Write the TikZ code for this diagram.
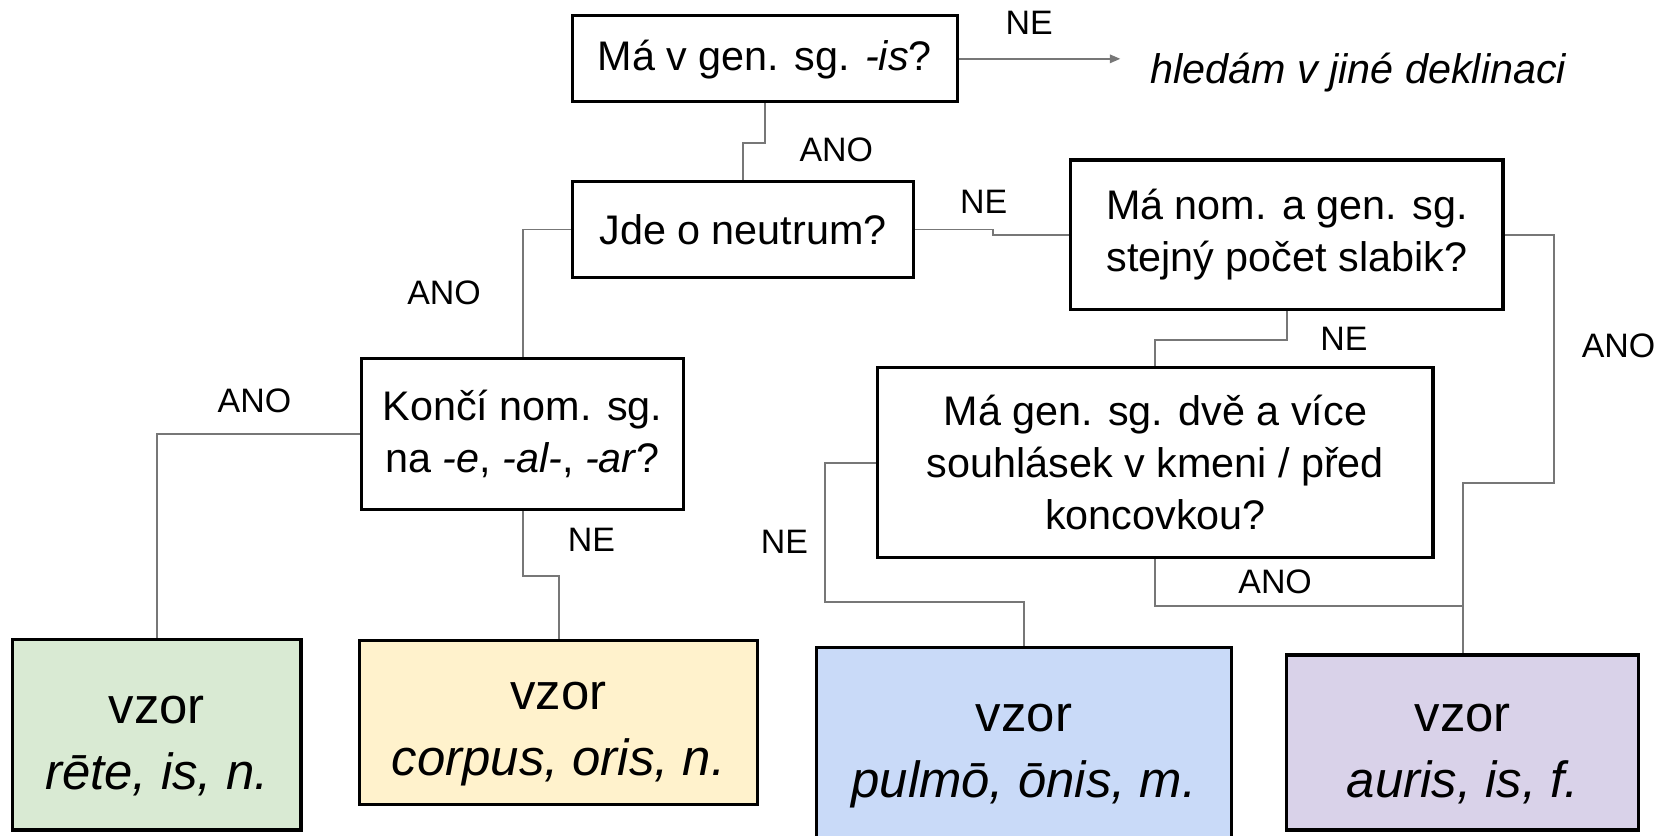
\documentclass[tikz,border=0pt]{standalone}
\usepackage{fontspec}
\setmainfont{Liberation Sans}
\usetikzlibrary{arrows.meta,calc}
\definecolor{cgreen}{HTML}{D9EAD3}
\definecolor{cyellow}{HTML}{FFF2CC}
\definecolor{cblue}{HTML}{C9DAF8}
\definecolor{cpurple}{HTML}{D9D2E9}
\definecolor{cline}{HTML}{777777}
\newcommand\qf{\fontsize{39}{49}\selectfont}
\newcommand\lf{\fontsize{32}{36}\selectfont}
\newcommand\vf{\fontsize{48}{62}\selectfont}
\newcommand\topstrut{\rule{0pt}{48pt}}
\begin{document}
\begin{tikzpicture}[x=1pt,y=-1pt,
  qbox/.style={draw=black,line width=3pt,rectangle,inner sep=0pt,align=center,font=\qf},
  vbox/.style={draw=black,line width=3pt,rectangle,inner sep=0pt,align=center,font=\vf},
  lab/.style={font=\lf,inner sep=0pt},
  conn/.style={draw=cline,line width=1.8pt}]
\useasboundingbox (0,0) rectangle (1568,788);
\clip (0,0) rectangle (1568,788);
% questions
\node[qbox,minimum width=363pt,minimum height=81pt] (b1) at (721.5,55.5) {\rule{0pt}{31pt}Má v gen. sg. \textit{-is}?};
\node[qbox,minimum width=322pt,minimum height=91pt] (b2) at (701,216.5) {Jde o neutrum?};
\node[qbox,minimum width=408pt,minimum height=141pt] (b4) at (1214,221.5) {Má nom. a gen. sg.\\stejný počet slabik?};
\node[qbox,minimum width=304pt,minimum height=143pt] (b3) at (493,409.5) {Končí nom. sg.\\na \textit{-e}, \textit{-al-}, \textit{-ar}?};
\node[qbox,minimum width=524pt,minimum height=179pt] (b5) at (1090,436.5) {Má gen. sg. dvě a více\\souhlásek v kmeni / před\\koncovkou?};
% results
\node[vbox,fill=cgreen,minimum width=272pt,minimum height=180pt] (b6) at (148,693) {\topstrut vzor\\\textit{rēte, is, n.}};
\node[vbox,fill=cyellow,minimum width=376pt,minimum height=155pt] (b7) at (527,681.5) {\topstrut vzor\\\textit{corpus, oris, n.}};
\node[vbox,fill=cblue,minimum width=392pt,minimum height=182pt] (b9) at (966,702) {\topstrut vzor\\\textit{pulmō, ōnis, m.}};
\node[vbox,fill=cpurple,minimum width=332pt,minimum height=165pt] (b8) at (1380,700.5) {\topstrut vzor\\\textit{auris, is, f.}};
\node[font=\qf,inner sep=0pt,anchor=west] (h) at (1085,68) {\textit{hledám v jiné deklinaci}};
% junction coordinates
\coordinate (j1) at (1380,456);
\coordinate (j2) at (966,568);
\coordinate (j3) at (1380,572);
% connectors
\draw[conn,-{Triangle[length=10pt,width=8pt]}] (b1.east) -- ($(b1.east -| h.west)+(-28,0)$);
\draw[conn] (b1.south) -- ++(0,37) -| (b2.north);
\draw[conn] (b2.west) -| (b3.north);
\draw[conn] (b2.east) -- ++(73,0) |- (b4.west);
\draw[conn] (b4.south) -- ++(0,27) -| (b5.north);
\draw[conn] (b4.east) -- ++(47,0) |- (j1) -- (b8.north);
\draw[conn] (b3.west) -| (b6.north);
\draw[conn] (b3.south) -- ++(0,61) -| (b7.north);
\draw[conn] (b5.west) -- ++(-48,0) |- (j2) -- (b9.north);
\draw[conn] (b5.south) |- (j3);
% labels
\node[lab] (l1) at (971,22) {NE};
\node[lab] (l2) at (789,141) {ANO};
\node[lab] (l3) at (928,190) {NE};
\node[lab] (l4) at (419,276) {ANO};
\node[lab] (l5) at (1268,320) {NE};
\node[lab] (l6) at (1527,326) {ANO};
\node[lab] (l7) at (240,378) {ANO};
\node[lab] (l8) at (558,509) {NE};
\node[lab] (l9) at (740,511) {NE};
\node[lab] (l10) at (1203,549) {ANO};
\end{tikzpicture}
\end{document}
